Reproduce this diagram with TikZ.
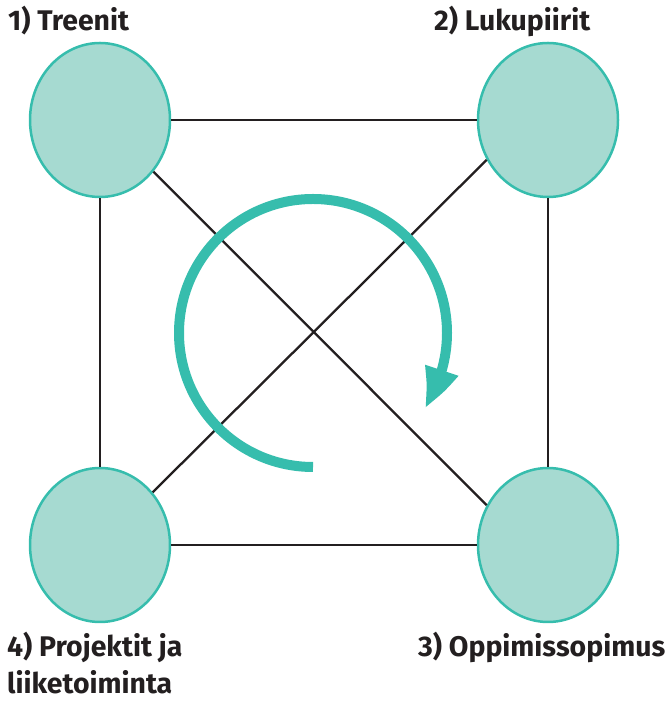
\documentclass[tikz,border=0pt]{standalone}
\usepackage{fontspec}
\setmainfont{Fira Sans}
\usetikzlibrary{arrows.meta,bending,shapes.geometric}
\definecolor{tealline}{HTML}{36BDAD}
\definecolor{tealfill}{HTML}{A6DAD1}
\definecolor{txt}{HTML}{231F20}
\tikzset{
  blob/.style={ellipse, draw=tealline, fill=tealfill, line width=2.5pt, minimum width=140pt, minimum height=154pt, inner sep=0pt},
  link/.style={draw=txt, line width=2.3pt},
  lbl/.style={font=\bfseries\fontsize{28.4}{36}\selectfont, text=txt, anchor=base west, inner sep=0pt}
}
\begin{document}
\begin{tikzpicture}[x=1pt,y=1pt]
\useasboundingbox (0,0) rectangle (669,701);
\node[blob] (tl) at (100,581) {};
\node[blob] (tr) at (548,581) {};
\node[blob] (bl) at (100,156) {};
\node[blob] (br) at (548,156) {};
\draw[link] (tl.east) -- (tr.west);
\draw[link] (bl.east) -- (br.west);
\draw[link] (tl.south) -- (bl.north);
\draw[link] (tr.south) -- (br.north);
\draw[link] (tl.-44) -- (br.147);
\draw[link] (tr.-147) -- (bl.45);
\coordinate (arcstart) at (313,234);
\draw[tealline, line width=10pt, -{Triangle[length=42pt,width=32pt,bend]}] (arcstart) arc[start angle=-90, end angle=-394, radius=134];
\node[lbl] (l1) at (8,670) {1) Treenit};
\node[lbl] (l2) at (434,670) {2) Lukupiirit};
\node[lbl] (l3) at (418,44) {3) Oppimissopimus};
\node[lbl] (l4) at (7,44) {4) Projektit ja};
\node[lbl] (l5) at (7,8) {liiketoiminta};
\end{tikzpicture}
\end{document}
